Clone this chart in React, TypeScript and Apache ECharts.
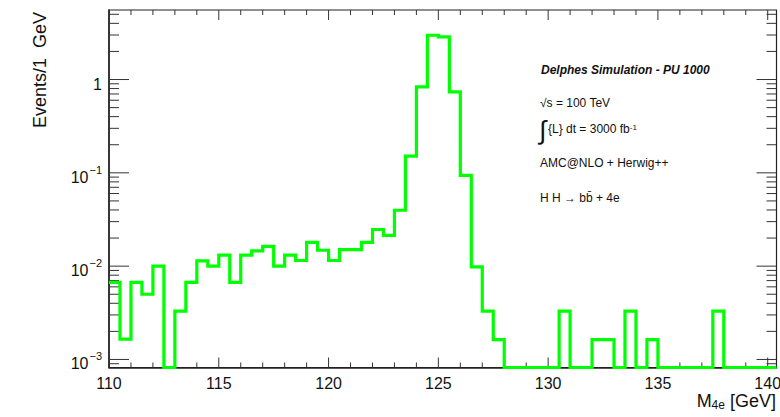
import React, { useEffect, useRef } from "react";
import * as echarts from "echarts";

// ---- data -----------------------------------------------------------
const binStart = 110;
const binWidth = 0.5;
// Events per bin (0.5 GeV bins from 110 to 140 GeV); 0 = empty bin
const binValues: number[] = [
  0.0067, 0.00165, 0.0067, 0.005, 0.01, 0, 0.0033, 0.0067, 0.0114, 0.01,
  0.0131, 0.0067, 0.0131, 0.0146, 0.0163, 0.01, 0.0131, 0.0115, 0.018, 0.0148,
  0.0115, 0.015, 0.015, 0.018, 0.0247, 0.0214, 0.0397, 0.151, 0.833, 2.98,
  2.86, 0.736, 0.094, 0.0098, 0.0033, 0.00163, 0, 0, 0, 0,
  0, 0.0033, 0, 0, 0.00163, 0.00163, 0, 0.0033, 0, 0.00163,
  0, 0, 0, 0, 0, 0.0033, 0, 0, 0, 0,
];

const xMin = 110;
const xMax = 140.4;
const yMin = 8.2e-4;
const yMax = 5.56;

const xMajorTicks = [110, 115, 120, 125, 130, 135, 140];
const yMajorTicks = [0.001, 0.01, 0.1, 1];

const annotations = [
  "Delphes Simulation - PU 1000",
  "√s = 100 TeV",
  "{L} dt = 3000 fb",
  "AMC@NLO + Herwig++",
  "H H → bb̄ + 4e",
];

const xTitle = "M";
const xTitleSub = "4e";
const xTitleUnit = " [GeV]";
const yTitle = "Events/1  GeV";

// ---- component ------------------------------------------------------
export default function App() {
  const ref = useRef<HTMLDivElement>(null);

  useEffect(() => {
    if (!ref.current) return;
    const chart = echarts.init(ref.current, null, { renderer: "svg" });
    const font = '"Liberation Sans", Arial, Helvetica, sans-serif';

    // step-histogram outline
    const stepPts: number[][] = [];
    binValues.forEach((v, i) => {
      const lo = binStart + i * binWidth;
      const hi = lo + binWidth;
      const yv = v > 0 ? v : yMin;
      stepPts.push([lo, yv], [hi, yv]);
    });
    const lastX = binStart + binValues.length * binWidth;
    if (xMax > lastX) stepPts.push([xMax, yMin]);

    // tick definitions: [kind(0=x,1=y), value, major]
    const tickData: number[][] = [];
    for (let v = xMin; v <= Math.floor(xMax); v += 1) {
      tickData.push([0, v, xMajorTicks.includes(v) ? 1 : 0]);
    }
    for (let e = -4; e <= 0; e++) {
      for (let k = 1; k <= 9; k++) {
        const v = k * Math.pow(10, e);
        if (v >= yMin && v <= yMax) tickData.push([1, v, k === 1 ? 1 : 0]);
      }
    }

    const isPow10 = (v: number) => {
      const e = Math.log10(v);
      return Math.abs(e - Math.round(e)) < 1e-6;
    };

    const option: any = {
      animation: false,
      backgroundColor: "#ffffff",
      grid: {
        left: 109,
        right: 3.5,
        top: 10,
        bottom: 49.5,
        show: true,
        borderColor: "#222",
        borderWidth: 1.2,
        backgroundColor: "transparent",
        containLabel: false,
        outerBoundsMode: "none",
      },
      xAxis: {
        type: "value",
        min: xMin,
        max: xMax,
        interval: 5,
        axisLine: { show: true, lineStyle: { color: "#222", width: 1.5 } },
        axisTick: { show: false },
        splitLine: { show: false },
        axisLabel: {
          show: true,
          margin: 8,
          color: "#111",
          fontSize: 16,
          fontFamily: font,
          formatter: (v: number) =>
            xMajorTicks.some((t) => Math.abs(t - v) < 1e-6) ? String(Math.round(v)) : "",
          showMinLabel: true,
          showMaxLabel: true,
          hideOverlap: false,
        },
      },
      yAxis: {
        type: "log",
        logBase: 10,
        min: yMin,
        max: yMax,
        axisLine: { show: true, lineStyle: { color: "#222", width: 1.5 } },
        axisTick: { show: false },
        splitLine: { show: false },
        minorTick: { show: false },
        axisLabel: {
          show: true,
          margin: 7,
          color: "#111",
          fontFamily: font,
          padding: [4, 0, 0, 0],
          formatter: (v: number) => {
            if (!isPow10(v)) return "";
            const e = Math.round(Math.log10(v));
            if (e === 0) return "{b|1}";
            return "{b|10}{s|−" + String(-e) + "}";
          },
          rich: {
            b: { fontSize: 16, fontFamily: font, color: "#111", padding: [5, 0, 0, 0] },
            s: { fontSize: 11, fontFamily: font, color: "#111", verticalAlign: "top", padding: [0, 0, 0, 1] },
          },
          showMinLabel: true,
          showMaxLabel: true,
          hideOverlap: false,
        },
      },
      series: [
        {
          type: "custom",
          name: "ticks",
          data: tickData,
          silent: true,
          z: 3,
          renderItem: (params: any, api: any) => {
            const cs = params.coordSys;
            const kind = api.value(0);
            const val = api.value(1);
            const major = api.value(2) === 1;
            const style = { stroke: "#333", lineWidth: 1 };
            if (kind === 0) {
              const p = api.coord([val, yMax]);
              const len = major ? 10 : 5;
              const bottom = cs.y + cs.height;
              const top = cs.y;
              return {
                type: "group",
                children: [
                  { type: "line", shape: { x1: p[0], y1: bottom, x2: p[0], y2: bottom - len }, style },
                  { type: "line", shape: { x1: p[0], y1: top, x2: p[0], y2: top + len }, style },
                ],
              };
            }
            const p = api.coord([xMin, val]);
            const len = major ? 20 : 10;
            const left = cs.x;
            const right = cs.x + cs.width;
            return {
              type: "group",
              children: [
                { type: "line", shape: { x1: left, y1: p[1], x2: left + len, y2: p[1] }, style },
                { type: "line", shape: { x1: right, y1: p[1], x2: right - len, y2: p[1] }, style },
              ],
            };
          },
        },
        {
          type: "line",
          name: "M4e",
          data: stepPts,
          showSymbol: false,
          symbol: "none",
          clip: false,
          z: 5,
          lineStyle: { color: "#00ff00", width: 3.2, join: "miter" },
        },
      ],
      graphic: [
        {
          type: "text",
          x: 40,
          y: 12,
          rotation: Math.PI / 2,
          style: {
            text: yTitle,
            font: "18px " + font,
            fill: "#111",
            align: "right",
            verticalAlign: "middle",
          },
        },
        {
          type: "text",
          right: 4,
          top: 392,
          style: {
            text: "{m|" + xTitle + "}{sub|" + xTitleSub + "}{m|" + xTitleUnit + "}",
            rich: {
              m: { fontSize: 18, fontFamily: font, fill: "#111", color: "#111" },
              sub: { fontSize: 12, fontFamily: font, fill: "#111", color: "#111", verticalAlign: "bottom", padding: [7, 0, 0, 0] },
            },
            fill: "#111",
          },
        },
        {
          type: "text",
          x: 541,
          y: 70,
          style: {
            text: annotations[0],
            font: "italic bold 12px " + font,
            fill: "#111",
            verticalAlign: "middle",
          },
        },
        {
          type: "text",
          x: 540,
          y: 103,
          style: {
            text: annotations[1],
            font: "12px " + font,
            fill: "#111",
            verticalAlign: "middle",
          },
        },
        {
          type: "text",
          x: 539,
          y: 130,
          style: {
            text: "∫",
            font: "26px " + font,
            fill: "#111",
            verticalAlign: "middle",
          },
        },
        {
          type: "text",
          x: 548,
          y: 129,
          style: {
            text: annotations[2] + "{sup|-1}",
            font: "12px " + font,
            fill: "#111",
            verticalAlign: "middle",
            rich: {
              sup: { fontSize: 8, fontFamily: font, fill: "#111", color: "#111", verticalAlign: "top" },
            },
          },
        },
        {
          type: "text",
          x: 540,
          y: 163,
          style: {
            text: annotations[3],
            font: "12px " + font,
            fill: "#111",
            verticalAlign: "middle",
          },
        },
        {
          type: "text",
          x: 540,
          y: 198,
          style: {
            text: annotations[4],
            font: "12px " + font,
            fill: "#111",
            verticalAlign: "middle",
          },
        },
      ],
    };

    chart.setOption(option);
    return () => chart.dispose();
  }, []);

  return (
    <div
      ref={ref}
      style={{ position: "fixed", left: 0, top: 0, width: 780, height: 417, background: "#fff" }}
    />
  );
}
